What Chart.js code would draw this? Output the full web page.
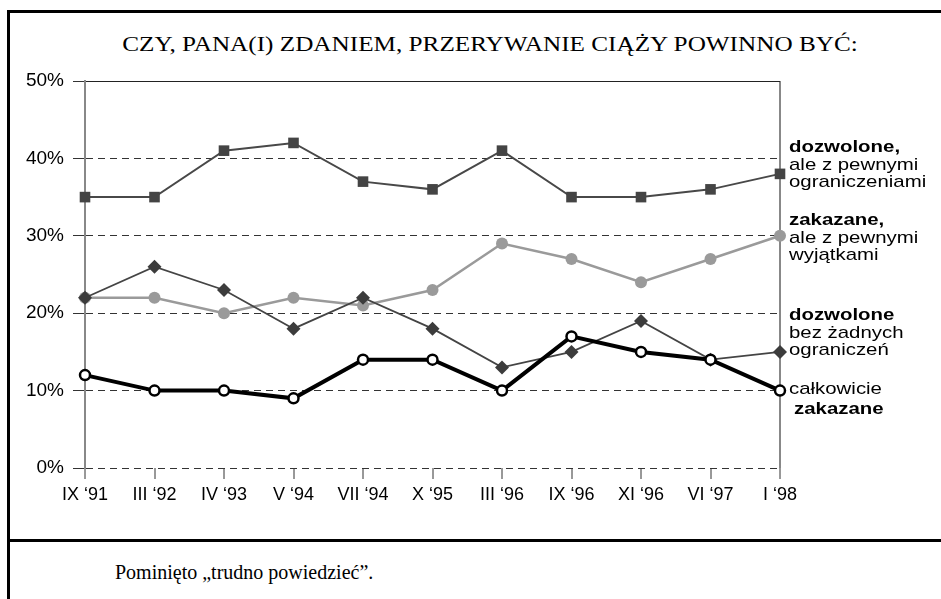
<!DOCTYPE html>
<html>
<head>
<meta charset="utf-8">
<script src="https://cdn.jsdelivr.net/npm/chart.js@4/dist/chart.umd.min.js"></script>
<style>
  body { margin: 0; background: #fff; }
  #wrap { position: relative; width: 941px; height: 599px; overflow: hidden; background: #fff; }
  #frame { position: absolute; left: 7px; top: 10px; width: 1000px; height: 700px;
           border-left: 3px solid #000; border-top: 3px solid #000; }
  #divider { position: absolute; left: 7px; top: 539px; width: 960px; height: 3px; background: #000; }
  #title { position: absolute; left: 0; width: 980px; top: 33px; text-align: center;
           font: 20px "Liberation Serif", "Times New Roman", serif; color: #000; white-space: nowrap;
           transform: scaleX(1.26); transform-origin: 490px 0; }
  #note { position: absolute; left: 115px; top: 561px;
          font: 20px "Liberation Serif", "Times New Roman", serif; color: #000; white-space: nowrap; }
  .lbl { position: absolute; left: 789px; font: 17px "Liberation Sans", Arial, sans-serif;
         line-height: 17.5px; color: #000; white-space: nowrap;
         transform: scaleX(1.2); transform-origin: 0 0; }
  .lbl b { font-weight: bold; }
  canvas { position: absolute; left: 0; top: 0; }
</style>
</head>
<body>
<div id="wrap">
  <div id="frame"></div>
  <div id="divider"></div>
  <div id="title">CZY, PANA(I) ZDANIEM, PRZERYWANIE CIĄŻY POWINNO BYĆ:</div>
  <canvas id="chart" width="941" height="530"></canvas>
  <div class="lbl" style="top:138px"><b>dozwolone,</b><br>ale z pewnymi<br>ograniczeniami</div>
  <div class="lbl" style="top:211px"><b>zakazane,</b><br>ale z pewnymi<br>wyjątkami</div>
  <div class="lbl" style="top:306px"><b>dozwolone</b><br>bez żadnych<br>ograniczeń</div>
  <div class="lbl" style="top:380px">całkowicie</div>
  <div class="lbl" style="top:400px; left:794px"><b>zakazane</b></div>
  <div id="note">Pominięto „trudno powiedzieć”.</div>
</div>
<script>
// DATA
const surveyDates = ["IX \u201891", "III \u201892", "IV \u201893", "V \u201894", "VII \u201894", "X \u201895",
                     "III \u201896", "IX \u201896", "XI \u201896", "VI \u201897", "I \u201898"];
const allowedWithLimits = [35, 35, 41, 42, 37, 36, 41, 35, 35, 36, 38];
const bannedWithExceptions = [22, 22, 20, 22, 21, 23, 29, 27, 24, 27, 30];
const allowedNoLimits = [22, 26, 23, 18, 22, 18, 13, 15, 19, 14, 15];
const totallyBanned = [12, 10, 10, 9, 14, 14, 10, 17, 15, 14, 10];
const yTicks = [0, 10, 20, 30, 40, 50];

const ctx = document.getElementById('chart').getContext('2d');
new Chart(ctx, {
    type: 'line',
    data: {
        labels: surveyDates,
        datasets: [
            {
                label: 'całkowicie zakazane',
                data: totallyBanned,
                borderColor: '#000',
                borderWidth: 4,
                pointStyle: 'circle',
                pointRadius: 5,
                pointBorderWidth: 2.5,
                pointBackgroundColor: '#fff',
                pointBorderColor: '#000',
                clip: false
            },
            {
                label: 'dozwolone bez żadnych ograniczeń',
                data: allowedNoLimits,
                borderColor: '#444',
                borderWidth: 1.8,
                pointStyle: 'rectRot',
                pointRadius: 7,
                pointBorderWidth: 0,
                pointBackgroundColor: '#3c3c3c',
                clip: false
            },
            {
                label: 'zakazane, ale z pewnymi wyjątkami',
                data: bannedWithExceptions,
                borderColor: '#9a9a9a',
                borderWidth: 2.5,
                pointStyle: 'circle',
                pointRadius: 6,
                pointBorderWidth: 0,
                pointBackgroundColor: '#9a9a9a',
                clip: false
            },
            {
                label: 'dozwolone, ale z pewnymi ograniczeniami',
                data: allowedWithLimits,
                borderColor: '#484848',
                borderWidth: 2,
                pointStyle: 'rect',
                pointRadius: 7.5,
                pointBorderWidth: 0,
                pointBackgroundColor: '#444',
                clip: false
            }
        ]
    },
    options: {
        responsive: false,
        devicePixelRatio: 1,
        animation: false,
        layout: { padding: { left: 0, right: 161, top: 81, bottom: 0 } },
        plugins: { legend: { display: false }, tooltip: { enabled: false } },
        elements: { line: { tension: 0 } },
        scales: {
            x: {
                offset: false,
                afterFit: s => { s.height = 62; },
                border: { display: false },
                grid: {
                    drawOnChartArea: true,
                    color: c => c.index === surveyDates.length - 1 ? '#888' : 'rgba(0,0,0,0)',
                    lineWidth: 2,
                    tickColor: '#333',
                    tickWidth: 1,
                    tickLength: 11
                },
                ticks: {
                    color: '#000',
                    padding: 5,
                    maxRotation: 0,
                    autoSkip: false,
                    font: { family: '"Liberation Sans", Arial, sans-serif', size: 18 }
                }
            },
            y: {
                min: 0,
                max: 50,
                afterFit: s => { s.width = 85; },
                afterBuildTicks: s => { s.ticks = yTicks.map(v => ({ value: v })); },
                border: {
                    display: true,
                    color: '#888',
                    width: 2,
                    dash: c => (c.tick && c.tick.value !== 50) ? [7, 5] : []
                },
                grid: {
                    color: c => c.tick && c.tick.value === 50 ? '#222' : '#333',
                    lineWidth: 1,
                    tickColor: '#333',
                    tickLength: 12
                },
                ticks: {
                    color: '#000',
                    padding: 9,
                    callback: v => v + '%',
                    font: { family: '"Liberation Sans", Arial, sans-serif', size: 19 }
                }
            }
        }
    }
});
</script>
</body>
</html>
